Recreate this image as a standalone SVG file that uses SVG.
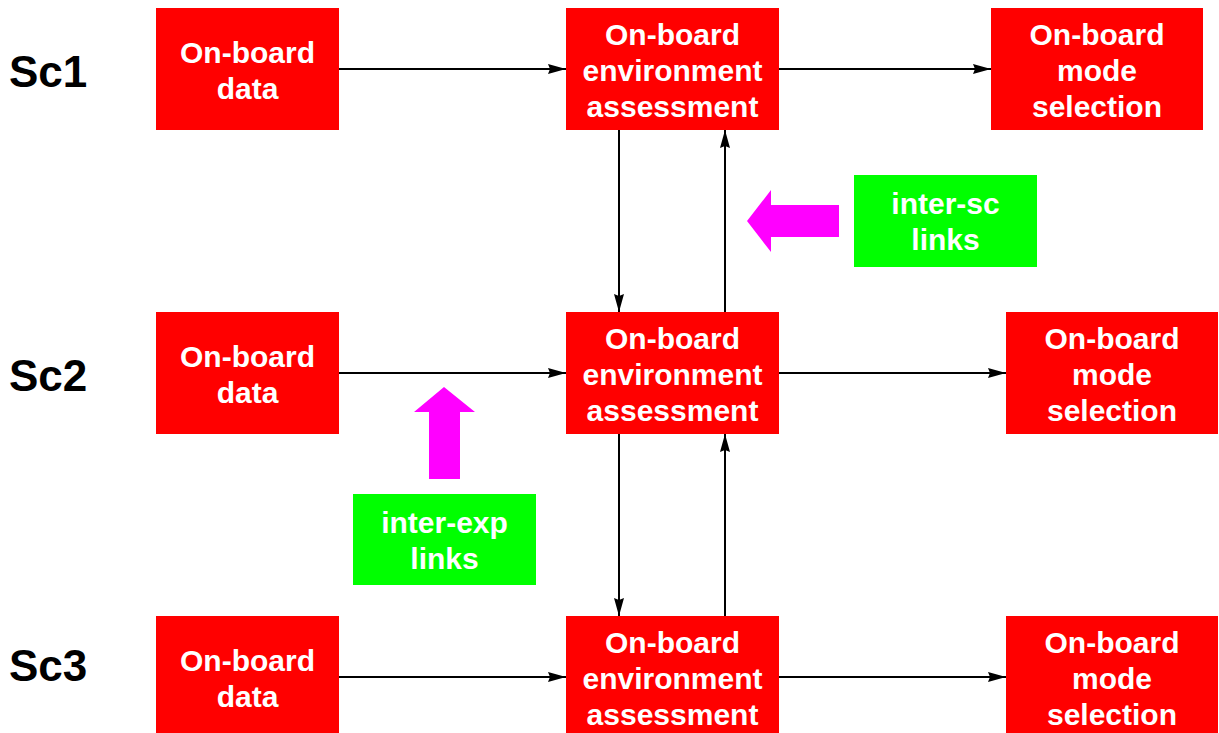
<svg xmlns="http://www.w3.org/2000/svg" width="1219" height="733" viewBox="0 0 1219 733">
<style>
.box{fill:#ff0000}
.lbl{fill:#00ff00}
.t{font-family:"Liberation Sans",Arial,sans-serif;font-weight:bold;font-size:30px;fill:#ffffff;text-anchor:middle}
.sc{font-family:"Liberation Sans",Arial,sans-serif;font-weight:bold;font-size:44px;fill:#000000}
.c{stroke:#000;stroke-width:2;fill:none;marker-end:url(#ah)}
.mag{fill:#ff00ff}
</style>
<defs>
<marker id="ah" markerWidth="18" markerHeight="12" refX="18" refY="6" orient="auto" markerUnits="userSpaceOnUse">
<path d="M0,1 L18,6 L0,11 L2,6 Z" fill="#000"/>
</marker>
</defs>
<rect width="1219" height="733" fill="#fff"/>
<g id="labels">
<text class="sc" x="9" y="87">Sc1</text>
<text class="sc" x="9" y="391">Sc2</text>
<text class="sc" x="9" y="681">Sc3</text>
</g>
<g id="connectors">
<line class="c" x1="339" y1="69" x2="566" y2="69"/>
<line class="c" x1="779" y1="69" x2="991" y2="69"/>
<line class="c" x1="339" y1="373" x2="566" y2="373"/>
<line class="c" x1="779" y1="373" x2="1006" y2="373"/>
<line class="c" x1="339" y1="677" x2="566" y2="677"/>
<line class="c" x1="779" y1="677" x2="1006" y2="677"/>
<line class="c" x1="619" y1="130" x2="619" y2="312"/>
<line class="c" x1="725" y1="312" x2="725" y2="130"/>
<line class="c" x1="619" y1="434" x2="619" y2="616"/>
<line class="c" x1="725" y1="616" x2="725" y2="434"/>
</g>
<g id="data1"><rect class="box" x="156" y="8" width="183" height="122"/><text class="t" x="247.5" y="63">On-board</text><text class="t" x="247.5" y="99">data</text></g>
<g id="env1"><rect class="box" x="566" y="8" width="213" height="122"/><text class="t" x="672.5" y="45">On-board</text><text class="t" x="672.5" y="81">environment</text><text class="t" x="672.5" y="117">assessment</text></g>
<g id="mode1"><rect class="box" x="991" y="8" width="212" height="122"/><text class="t" x="1097" y="45">On-board</text><text class="t" x="1097" y="81">mode</text><text class="t" x="1097" y="117">selection</text></g>
<g id="data2"><rect class="box" x="156" y="312" width="183" height="122"/><text class="t" x="247.5" y="367">On-board</text><text class="t" x="247.5" y="403">data</text></g>
<g id="env2"><rect class="box" x="566" y="312" width="213" height="122"/><text class="t" x="672.5" y="349">On-board</text><text class="t" x="672.5" y="385">environment</text><text class="t" x="672.5" y="421">assessment</text></g>
<g id="mode2"><rect class="box" x="1006" y="312" width="212" height="122"/><text class="t" x="1112" y="349">On-board</text><text class="t" x="1112" y="385">mode</text><text class="t" x="1112" y="421">selection</text></g>
<g id="data3"><rect class="box" x="156" y="616" width="183" height="122"/><text class="t" x="247.5" y="671">On-board</text><text class="t" x="247.5" y="707">data</text></g>
<g id="env3"><rect class="box" x="566" y="616" width="213" height="122"/><text class="t" x="672.5" y="653">On-board</text><text class="t" x="672.5" y="689">environment</text><text class="t" x="672.5" y="725">assessment</text></g>
<g id="mode3"><rect class="box" x="1006" y="616" width="212" height="122"/><text class="t" x="1112" y="653">On-board</text><text class="t" x="1112" y="689">mode</text><text class="t" x="1112" y="725">selection</text></g>
<g id="intersc"><polygon class="mag" points="747,221 771,190 771,205 839,205 839,237 771,237 771,252"/><rect class="lbl" x="854" y="175" width="183" height="92"/><text class="t" x="945.5" y="214">inter-sc</text><text class="t" x="945.5" y="250">links</text></g>
<g id="interexp"><polygon class="mag" points="444,387 475,412 460,412 460,479 429,479 429,412 414,412"/><rect class="lbl" x="353" y="494" width="183" height="91"/><text class="t" x="444.5" y="533">inter-exp</text><text class="t" x="444.5" y="569">links</text></g>
</svg>
